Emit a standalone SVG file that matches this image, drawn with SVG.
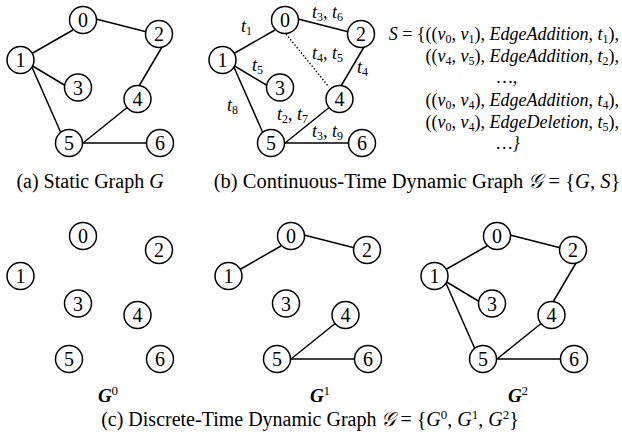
<svg xmlns="http://www.w3.org/2000/svg" width="622" height="443" viewBox="0 0 622 443">
<style>
.e{stroke:#000;stroke-width:1.5;fill:none}
.d{stroke:#000;stroke-width:1.4;stroke-dasharray:1.4 2;fill:none}
.n circle{fill:#fff;stroke:#000;stroke-width:1.5}
.n text{font-family:"Liberation Serif",serif;font-size:20px;text-anchor:middle;fill:#000}
.cap{font-family:"Liberation Serif",serif;font-size:20px;fill:#000}
.i{font-style:italic}
.u{font-style:normal}
.sb{font-size:12px}
.sp{font-size:13px}
.gl{font-family:"Liberation Serif",serif;font-size:19px;font-style:italic;font-weight:bold;fill:#000;text-anchor:middle}
.lb{font-family:"Liberation Serif",serif;font-style:italic;font-size:18px;fill:#000}
.s{font-family:"Liberation Serif",serif;font-style:italic;font-size:18px;fill:#000;text-anchor:end}
.sc{font-family:"Liberation Serif","DejaVu Serif","DejaVu Sans",serif}
</style>
<rect width="622" height="443" fill="#fff"/>

<!-- Panel (a) static graph -->
<g id="panel-a">
  <g id="a-edges">
    <line class="e" x1="31" y1="54" x2="73" y2="30"/>
    <line class="e" x1="96" y1="19" x2="147" y2="32"/>
    <line class="e" x1="31" y1="65" x2="66" y2="86"/>
    <line class="e" x1="31" y1="65" x2="61" y2="133"/>
    <line class="e" x1="162" y1="47" x2="139" y2="86"/>
    <line class="e" x1="83" y1="143" x2="129" y2="106"/>
    <line class="e" x1="83" y1="143" x2="147" y2="143"/>
  </g>
  <g id="a-n0" class="n"><circle cx="83" cy="20" r="13.5"/><text x="83" y="27">0</text></g>
  <g id="a-n1" class="n"><circle cx="20.5" cy="60" r="13.5"/><text x="20.5" y="67">1</text></g>
  <g id="a-n2" class="n"><circle cx="159" cy="34" r="13.5"/><text x="159" y="41">2</text></g>
  <g id="a-n3" class="n"><circle cx="78" cy="87.5" r="13.5"/><text x="78" y="94.5">3</text></g>
  <g id="a-n4" class="n"><circle cx="137.5" cy="99" r="13.5"/><text x="137.5" y="106">4</text></g>
  <g id="a-n5" class="n"><circle cx="69" cy="143" r="13.5"/><text x="69" y="150">5</text></g>
  <g id="a-n6" class="n"><circle cx="160" cy="143" r="13.5"/><text x="160" y="150">6</text></g>
</g>
<text class="cap" x="90" y="188" text-anchor="middle">(a) Static Graph <tspan class="i">G</tspan></text>

<!-- Panel (b) continuous-time -->
<g id="panel-b" transform="translate(202,0)">
  <g id="b-edges">
    <line class="e" x1="31" y1="54" x2="73" y2="30"/>
    <line class="e" x1="96" y1="19" x2="147" y2="32"/>
    <line class="e" x1="31" y1="65" x2="66" y2="86"/>
    <line class="e" x1="31" y1="65" x2="61" y2="133"/>
    <line class="e" x1="162" y1="47" x2="139" y2="86"/>
    <line class="e" x1="83" y1="143" x2="129" y2="106"/>
    <line class="e" x1="83" y1="143" x2="147" y2="143"/>
    <line class="d" x1="84" y1="34" x2="127" y2="87"/>
  </g>
  <g id="b-n0" class="n"><circle cx="83" cy="20" r="13.5"/><text x="83" y="27">0</text></g>
  <g id="b-n1" class="n"><circle cx="20.5" cy="60" r="13.5"/><text x="20.5" y="67">1</text></g>
  <g id="b-n2" class="n"><circle cx="159" cy="34" r="13.5"/><text x="159" y="41">2</text></g>
  <g id="b-n3" class="n"><circle cx="78" cy="87.5" r="13.5"/><text x="78" y="94.5">3</text></g>
  <g id="b-n4" class="n"><circle cx="137.5" cy="99" r="13.5"/><text x="137.5" y="106">4</text></g>
  <g id="b-n5" class="n"><circle cx="69" cy="143" r="13.5"/><text x="69" y="150">5</text></g>
  <g id="b-n6" class="n"><circle cx="160" cy="143" r="13.5"/><text x="160" y="150">6</text></g>
</g>
<g id="b-labels">
  <text class="lb" x="241" y="32">t<tspan class="u sb" dy="3">1</tspan></text>
  <text class="lb" x="312" y="18">t<tspan class="u sb" dy="3">3</tspan><tspan class="u" dy="-3">, </tspan>t<tspan class="u sb" dy="3">6</tspan></text>
  <text class="lb" x="312" y="59">t<tspan class="u sb" dy="3">4</tspan><tspan class="u" dy="-3">, </tspan>t<tspan class="u sb" dy="3">5</tspan></text>
  <text class="lb" x="357" y="73">t<tspan class="u sb" dy="3">4</tspan></text>
  <text class="lb" x="252" y="71">t<tspan class="u sb" dy="3">5</tspan></text>
  <text class="lb" x="227" y="111">t<tspan class="u sb" dy="3">8</tspan></text>
  <text class="lb" x="277" y="120">t<tspan class="u sb" dy="3">2</tspan><tspan class="u" dy="-3">, </tspan>t<tspan class="u sb" dy="3">7</tspan></text>
  <text class="lb" x="312" y="137">t<tspan class="u sb" dy="3">3</tspan><tspan class="u" dy="-3">, </tspan>t<tspan class="u sb" dy="3">9</tspan></text>
</g>

<g id="event-set">
  <text class="s" x="619" y="40">S<tspan class="u"> = {((</tspan>v<tspan class="u sb" dy="3">0</tspan><tspan class="u" dy="-3">, </tspan>v<tspan class="u sb" dy="3">1</tspan><tspan class="u" dy="-3">), </tspan>EdgeAddition<tspan class="u">, </tspan>t<tspan class="u sb" dy="3">1</tspan><tspan class="u" dy="-3">),</tspan></text>
  <text class="s" x="619" y="62"><tspan class="u">((</tspan>v<tspan class="u sb" dy="3">4</tspan><tspan class="u" dy="-3">, </tspan>v<tspan class="u sb" dy="3">5</tspan><tspan class="u" dy="-3">), </tspan>EdgeAddition<tspan class="u">, </tspan>t<tspan class="u sb" dy="3">2</tspan><tspan class="u" dy="-3">),</tspan></text>
  <text class="s u" x="507" y="83" style="text-anchor:middle">…,</text>
  <text class="s" x="619" y="106"><tspan class="u">((</tspan>v<tspan class="u sb" dy="3">0</tspan><tspan class="u" dy="-3">, </tspan>v<tspan class="u sb" dy="3">4</tspan><tspan class="u" dy="-3">), </tspan>EdgeAddition<tspan class="u">, </tspan>t<tspan class="u sb" dy="3">4</tspan><tspan class="u" dy="-3">),</tspan></text>
  <text class="s" x="619" y="128"><tspan class="u">((</tspan>v<tspan class="u sb" dy="3">0</tspan><tspan class="u" dy="-3">, </tspan>v<tspan class="u sb" dy="3">4</tspan><tspan class="u" dy="-3">), </tspan>EdgeDeletion<tspan class="u">, </tspan>t<tspan class="u sb" dy="3">5</tspan><tspan class="u" dy="-3">),</tspan></text>
  <text class="s u" x="508" y="149" style="text-anchor:middle">…}</text>
</g>
<text class="cap" x="417" y="188" text-anchor="middle" style="font-size:20.5px">(b) Continuous-Time Dynamic Graph <tspan class="i sc">𝒢</tspan> = {<tspan class="i">G</tspan>, <tspan class="i">S</tspan>}</text>

<!-- Panel (c) discrete-time snapshots -->
<g id="panel-c0" transform="translate(0,216)">
  <g id="c0-n0" class="n"><circle cx="83" cy="20" r="13.5"/><text x="83" y="27">0</text></g>
  <g id="c0-n1" class="n"><circle cx="20.5" cy="60" r="13.5"/><text x="20.5" y="67">1</text></g>
  <g id="c0-n2" class="n"><circle cx="159" cy="34" r="13.5"/><text x="159" y="41">2</text></g>
  <g id="c0-n3" class="n"><circle cx="78" cy="87.5" r="13.5"/><text x="78" y="94.5">3</text></g>
  <g id="c0-n4" class="n"><circle cx="137.5" cy="99" r="13.5"/><text x="137.5" y="106">4</text></g>
  <g id="c0-n5" class="n"><circle cx="69" cy="143" r="13.5"/><text x="69" y="150">5</text></g>
  <g id="c0-n6" class="n"><circle cx="160" cy="143" r="13.5"/><text x="160" y="150">6</text></g>
</g>
<g id="panel-c1" transform="translate(208,216)">
  <g id="c1-edges">
    <line class="e" x1="31" y1="54" x2="73" y2="30"/>
    <line class="e" x1="96" y1="19" x2="147" y2="32"/>
    <line class="e" x1="83" y1="143" x2="129" y2="106"/>
    <line class="e" x1="83" y1="143" x2="147" y2="143"/>
  </g>
  <g id="c1-n0" class="n"><circle cx="83" cy="20" r="13.5"/><text x="83" y="27">0</text></g>
  <g id="c1-n1" class="n"><circle cx="20.5" cy="60" r="13.5"/><text x="20.5" y="67">1</text></g>
  <g id="c1-n2" class="n"><circle cx="159" cy="34" r="13.5"/><text x="159" y="41">2</text></g>
  <g id="c1-n3" class="n"><circle cx="78" cy="87.5" r="13.5"/><text x="78" y="94.5">3</text></g>
  <g id="c1-n4" class="n"><circle cx="137.5" cy="99" r="13.5"/><text x="137.5" y="106">4</text></g>
  <g id="c1-n5" class="n"><circle cx="69" cy="143" r="13.5"/><text x="69" y="150">5</text></g>
  <g id="c1-n6" class="n"><circle cx="160" cy="143" r="13.5"/><text x="160" y="150">6</text></g>
</g>
<g id="panel-c2" transform="translate(414,216)">
  <g id="c2-edges">
    <line class="e" x1="31" y1="54" x2="73" y2="30"/>
    <line class="e" x1="96" y1="19" x2="147" y2="32"/>
    <line class="e" x1="31" y1="65" x2="66" y2="86"/>
    <line class="e" x1="31" y1="65" x2="61" y2="133"/>
    <line class="e" x1="162" y1="47" x2="139" y2="86"/>
    <line class="e" x1="83" y1="143" x2="129" y2="106"/>
    <line class="e" x1="83" y1="143" x2="147" y2="143"/>
  </g>
  <g id="c2-n0" class="n"><circle cx="83" cy="20" r="13.5"/><text x="83" y="27">0</text></g>
  <g id="c2-n1" class="n"><circle cx="20.5" cy="60" r="13.5"/><text x="20.5" y="67">1</text></g>
  <g id="c2-n2" class="n"><circle cx="159" cy="34" r="13.5"/><text x="159" y="41">2</text></g>
  <g id="c2-n3" class="n"><circle cx="78" cy="87.5" r="13.5"/><text x="78" y="94.5">3</text></g>
  <g id="c2-n4" class="n"><circle cx="137.5" cy="99" r="13.5"/><text x="137.5" y="106">4</text></g>
  <g id="c2-n5" class="n"><circle cx="69" cy="143" r="13.5"/><text x="69" y="150">5</text></g>
  <g id="c2-n6" class="n"><circle cx="160" cy="143" r="13.5"/><text x="160" y="150">6</text></g>
</g>
<g id="snapshot-labels">
  <text class="gl" x="108" y="402">G<tspan class="u sp" dy="-7" style="font-weight:normal">0</tspan></text>
  <text class="gl" x="320" y="402">G<tspan class="u sp" dy="-7" style="font-weight:normal">1</tspan></text>
  <text class="gl" x="518" y="402">G<tspan class="u sp" dy="-7" style="font-weight:normal">2</tspan></text>
</g>
<text class="cap" x="310" y="426" text-anchor="middle">(c) Discrete-Time Dynamic Graph  <tspan class="i sc">𝒢</tspan> = {<tspan class="i">G</tspan><tspan class="sp" dy="-7">0</tspan><tspan dy="7">, </tspan><tspan class="i">G</tspan><tspan class="sp" dy="-7">1</tspan><tspan dy="7">, </tspan><tspan class="i">G</tspan><tspan class="sp" dy="-7">2</tspan><tspan dy="7">}</tspan></text>
</svg>
